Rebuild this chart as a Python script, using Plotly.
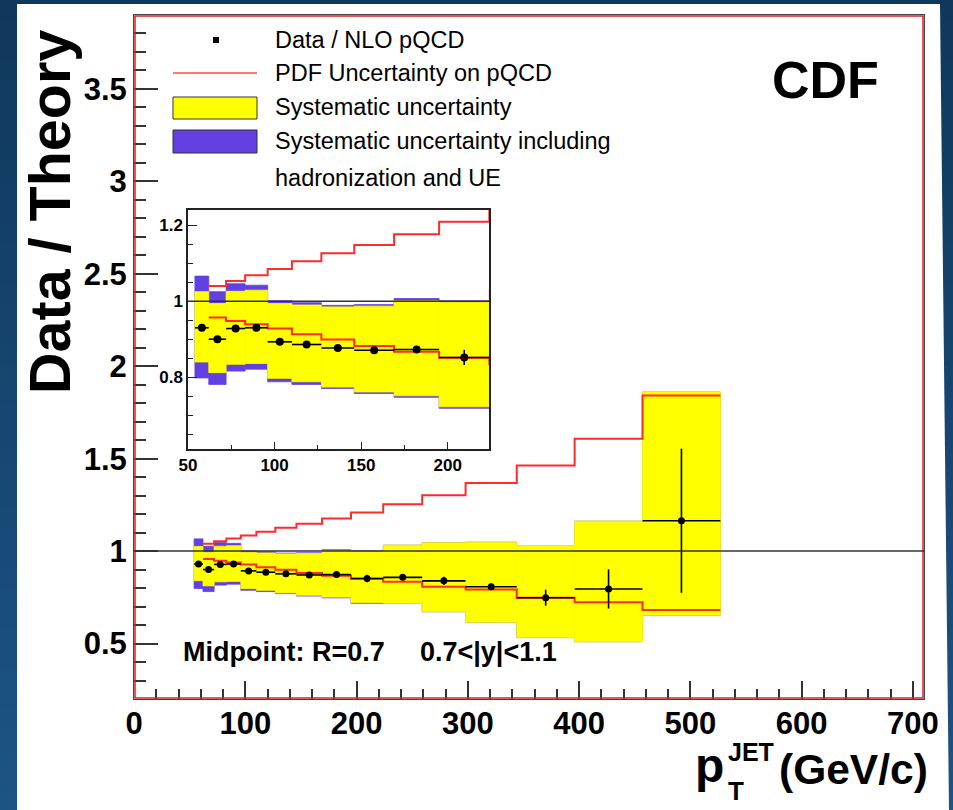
import plotly.graph_objects as go

# ---------------- data ----------------
bin_edges = [54, 62, 72, 83, 96, 110, 127, 146, 169, 195, 224, 259, 298, 344, 396, 457, 527]
data_ratio = [0.930, 0.900, 0.928, 0.930, 0.893, 0.886, 0.877, 0.871, 0.873, 0.852,
              0.858, 0.839, 0.807, 0.748, 0.795, 1.164]
stat_err = [0.004, 0.004, 0.004, 0.004, 0.004, 0.004, 0.004, 0.005, 0.006, 0.020,
            0.008, 0.022, 0.018, 0.043, 0.106, 0.390]
sys_lo = [0.840, 0.812, 0.834, 0.836, 0.797, 0.788, 0.774, 0.761, 0.751, 0.722,
          0.718, 0.672, 0.615, 0.532, 0.510, 0.654]
sys_hi = [1.025, 0.994, 1.026, 1.029, 0.994, 0.990, 0.985, 0.987, 1.001, 0.997,
          1.032, 1.045, 1.048, 1.027, 1.162, 1.860]
had_lo = [0.798, 0.781, 0.816, 0.821, 0.788, 0.781, 0.770, 0.757, 0.747, 0.718,
          0.718, 0.672, 0.615, 0.532, 0.510, 0.654]
had_hi = [1.066, 1.025, 1.046, 1.042, 1.001, 0.996, 0.989, 0.991, 1.007, 1.001,
          1.032, 1.045, 1.048, 1.027, 1.162, 1.860]
pdf_lo = [None, 0.957, 0.948, 0.939, 0.928, 0.913, 0.899, 0.882, 0.867, 0.851,
          0.834, 0.807, 0.792, 0.748, 0.723, 0.681]
pdf_hi = [None, 1.040, 1.053, 1.068, 1.085, 1.105, 1.126, 1.148, 1.176, 1.209,
          1.254, 1.302, 1.369, 1.463, 1.608, 1.842]

legend_labels = ["Data / NLO pQCD", "PDF Uncertainty on pQCD", "Systematic uncertainty",
                 "Systematic uncertainty including", "hadronization and UE"]

# ---------------- style ----------------
FONT = "Liberation Sans, Arial, Helvetica, sans-serif"
YELLOW = "#ffff00"
PURPLE = "#6240e2"
RED = "#ff2a2a"
W, H = 953, 810
L, R, T, B = 134, 924, 15, 699


def px(x):
    return (x - L) / (R - L)


def py(y):
    return (B - y) / (B - T)


centers = [(a + b) / 2 for a, b in zip(bin_edges[:-1], bin_edges[1:])]
widths = [b - a for a, b in zip(bin_edges[:-1], bin_edges[1:])]
half_w = [w / 2 for w in widths]

fig = go.Figure()
for xa, ya, msize in [("x", "y", 7), ("x2", "y2", 8)]:
    fig.add_trace(go.Bar(x=centers, y=[h - l for l, h in zip(had_lo, had_hi)], base=had_lo,
                         width=widths, marker=dict(color=PURPLE, line=dict(color=PURPLE, width=0.8)),
                         xaxis=xa, yaxis=ya, hoverinfo="skip"))
    fig.add_trace(go.Bar(x=centers, y=[h - l for l, h in zip(sys_lo, sys_hi)], base=sys_lo,
                         width=widths, marker=dict(color=YELLOW, line=dict(color=YELLOW, width=0.8)),
                         xaxis=xa, yaxis=ya, hoverinfo="skip"))
    for vals in (pdf_hi, pdf_lo):
        fig.add_trace(go.Scatter(x=bin_edges[1:], y=vals[1:] + [vals[-1]], mode="lines",
                                 line=dict(shape="hv", color=RED, width=2),
                                 xaxis=xa, yaxis=ya, hoverinfo="skip"))
    fig.add_trace(go.Scatter(x=centers, y=data_ratio, mode="markers",
                             marker=dict(color="black", size=msize, symbol="circle"),
                             error_x=dict(type="data", array=half_w, width=0, thickness=1.6, color="black"),
                             error_y=dict(type="data", array=stat_err, width=0, thickness=1.6, color="black"),
                             xaxis=xa, yaxis=ya))

tick_main = dict(family=FONT, size=31, color="black", weight="bold")
tick_in = dict(family=FONT, size=17, color="black", weight="bold")

fig.update_layout(
    width=W, height=H, autosize=False,
    margin=dict(l=L, r=W - R, t=T, b=H - B, pad=0),
    paper_bgcolor="#1a4c7a", plot_bgcolor="white",
    barmode="overlay", showlegend=False,
    font=dict(family=FONT, color="black"),
    xaxis=dict(domain=[0, 1], anchor="y", range=[0, 710], tick0=0, dtick=100,
               ticks="inside", ticklen=18, tickwidth=1.5, tickcolor="#333",
               minor=dict(dtick=20, ticks="inside", ticklen=10, tickwidth=1.5, tickcolor="#333"),
               showline=True, linecolor="#444", linewidth=1, mirror=True,
               showgrid=False, zeroline=False, tickfont=tick_main, ticklabelstandoff=-3),
    yaxis=dict(domain=[0, 1], anchor="x", range=[0.2, 3.9], tick0=0, dtick=0.5,
               ticks="inside", ticklen=24, tickwidth=1.5, tickcolor="#333",
               minor=dict(dtick=0.1, ticks="inside", ticklen=12, tickwidth=1.5, tickcolor="#333"),
               showline=True, linecolor="#444", linewidth=1, mirror=True,
               showgrid=False, zeroline=False, tickfont=tick_main),
    xaxis2=dict(domain=[px(188), px(489)], anchor="y2", range=[50, 223.8], tick0=0, dtick=50,
                ticks="inside", ticklen=7, tickwidth=1.3, tickcolor="#222",
                minor=dict(dtick=25, ticks="inside", ticklen=4, tickwidth=1.3, tickcolor="#222"),
                showline=True, linecolor="#222", linewidth=1.5, mirror=True,
                showgrid=False, zeroline=False, tickfont=tick_in),
    yaxis2=dict(domain=[py(449), py(210)], anchor="x2", range=[0.611, 1.24], tick0=0, dtick=0.2,
                ticks="inside", ticklen=9, tickwidth=1.3, tickcolor="#222",
                minor=dict(dtick=0.05, ticks="inside", ticklen=5, tickwidth=1.3, tickcolor="#222"),
                showline=True, linecolor="#222", linewidth=1.5, mirror=True,
                showgrid=False, zeroline=False, tickfont=tick_in),
)

shapes = []
# background gradient
n = 40
c0, c1 = (16, 56, 92), (28, 84, 132)
for i in range(n):
    f = i / (n - 1)
    col = "rgb(%d,%d,%d)" % tuple(round(a + (b - a) * f) for a, b in zip(c0, c1))
    shapes.append(dict(type="rect", xref="paper", yref="paper", layer="below",
                       x0=px(0), x1=px(W), y0=py(H * (i + 1) / n + 1), y1=py(H * i / n),
                       line_width=0, fillcolor=col))
# white panel
shapes.append(dict(type="path", xref="paper", yref="paper", layer="below",
                   path="M %f,%f L %f,%f L %f,%f L %f,%f Z" % (px(17), py(4), px(940), py(4),
                                                              px(949), py(H + 2), px(17), py(H + 2)),
                   line_width=0, fillcolor="white"))
# red frame
shapes.append(dict(type="rect", xref="paper", yref="paper", layer="above",
                   x0=px(135), x1=px(923), y0=py(698), y1=py(16),
                   line=dict(color="#dd2020", width=1.5)))
# unity lines
shapes.append(dict(type="line", xref="x domain", yref="y", x0=0, x1=1, y0=1, y1=1,
                   line=dict(color="#333", width=1.5), layer="above"))
shapes.append(dict(type="line", xref="x2 domain", yref="y2", x0=0, x1=1, y0=1, y1=1,
                   line=dict(color="#333", width=1.5), layer="above"))
# legend symbols
shapes.append(dict(type="rect", xref="paper", yref="paper", x0=px(213), x1=px(219),
                   y0=py(43), y1=py(37), fillcolor="black", line_width=0))
shapes.append(dict(type="line", xref="paper", yref="paper", x0=px(173), x1=px(257),
                   y0=py(73), y1=py(73), line=dict(color="#ff4a4a", width=1.6)))
shapes.append(dict(type="rect", xref="paper", yref="paper", x0=px(173), x1=px(257),
                   y0=py(119), y1=py(97), fillcolor=YELLOW, line=dict(color="#333", width=1)))
shapes.append(dict(type="rect", xref="paper", yref="paper", x0=px(173), x1=px(257),
                   y0=py(153), y1=py(130), fillcolor=PURPLE, line=dict(color="#333", width=1)))
fig.update_layout(shapes=shapes)

ann = []


def add_text(text, x, y, size, xanchor="left", bold=False, angle=0):
    ann.append(dict(text=text, xref="paper", yref="paper", x=px(x), y=py(y),
                    xanchor=xanchor, yanchor="middle", showarrow=False, textangle=angle,
                    font=dict(family=FONT, size=size, color="black",
                              weight="bold" if bold else "normal")))


for lab, yy in zip(legend_labels, [40, 73, 107, 141, 178]):
    add_text(lab, 273, yy, 23.5)

add_text("CDF", 825, 80, 52, xanchor="center", bold=True)
add_text("Midpoint: R=0.7", 181, 652, 27, bold=True)
add_text("0.7&lt;|y|&lt;1.1", 418, 652, 27, bold=True)
add_text("Data / Theory", 50, 212, 57.5, xanchor="center", bold=True, angle=-90)
add_text("p", 693, 766, 48, bold=True)
add_text("JET", 726, 752, 25, bold=True)
add_text("T", 726, 791, 26, bold=True)
add_text("(GeV/c)", 777, 769, 42.5, bold=True)
fig.update_layout(annotations=ann)

fig.write_html("out.html", config={"displayModeBar": False},
               post_script="document.body.style.margin='0';document.body.style.overflow='hidden';")
